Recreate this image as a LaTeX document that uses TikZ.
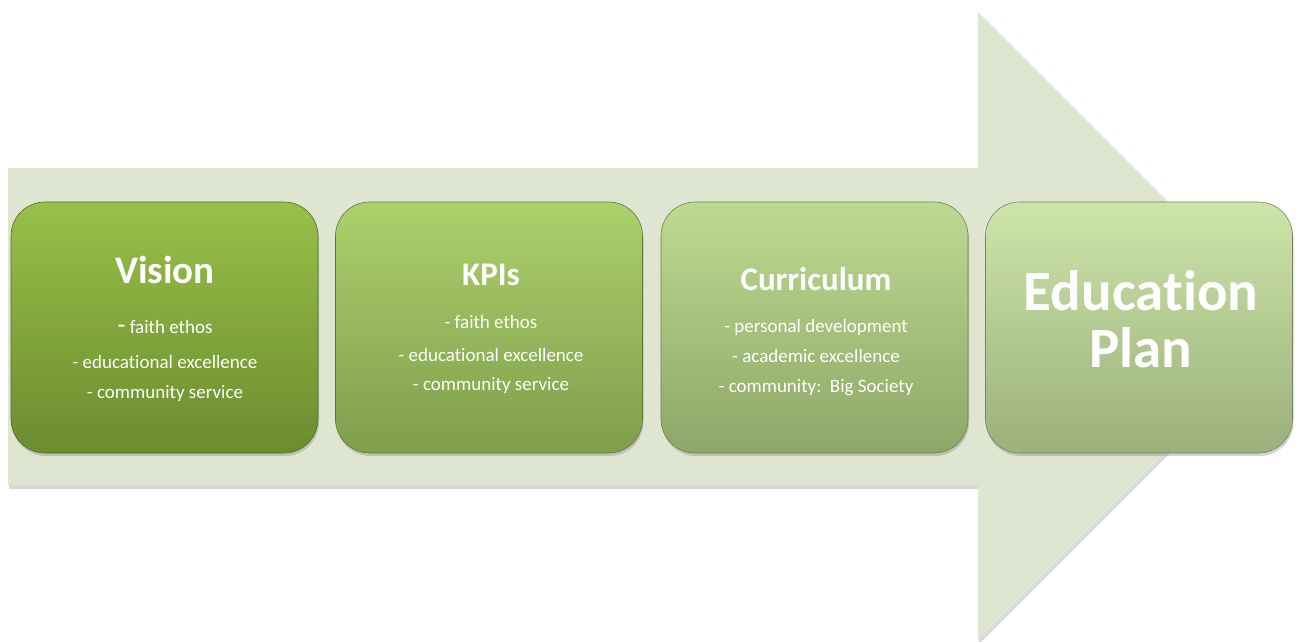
\documentclass[tikz,border=0pt]{standalone}
\usepackage{fontspec}
\setmainfont[Ligatures=NoCommon]{Carlito}
\usetikzlibrary{shadows}

\definecolor{flecha}{RGB}{222,230,210}
\definecolor{visionA}{RGB}{152,192,72}
\definecolor{visionB}{RGB}{108,140,48}
\definecolor{kpiA}{RGB}{172,208,108}
\definecolor{kpiB}{RGB}{128,158,76}
\definecolor{curriA}{RGB}{190,218,145}
\definecolor{curriB}{RGB}{142,166,104}
\definecolor{planA}{RGB}{205,228,170}
\definecolor{planB}{RGB}{155,176,124}

\tikzset{
  caja/.style 2 args={rectangle, rounded corners=34pt, inner sep=0pt,
    minimum width=307pt, minimum height=251pt,
    top color=#1, bottom color=#2, draw=#2!75!black, line width=0.6pt,
    drop shadow={shadow xshift=1pt, shadow yshift=-3pt, opacity=0.35}},
  titulo/.style={anchor=base, text=white, font=\bfseries\fontsize{#1}{#1}\selectfont},
  linea/.style={anchor=base, text=white, font=\fontsize{19}{19}\selectfont}
}

\begin{document}
\begin{tikzpicture}[x=1pt, y=-1pt]
    \useasboundingbox (0,0) rectangle (1300,641);
    % Flecha de fondo
    \fill[flecha, drop shadow={shadow xshift=1pt, shadow yshift=-4pt, opacity=0.3}]
      (8,168) -- (978,168) -- (978,12) -- (1292,326) -- (978,640) -- (978,485) -- (8,485) -- cycle;
    % Las cuatro cajas
    \node[caja={visionA}{visionB}] (vision) at (164.5,327.5) {};
    \node[caja={kpiA}{kpiB}] (kpis) at (489,327.5) {};
    \node[caja={curriA}{curriB}] (curri) at (814.5,327.5) {};
    \node[caja={planA}{planB}] (plan) at (1139,327.5) {};
    % Textos de Vision
    \node[titulo=39] (tvision) at (165,283) {Vision};
    \node[linea] (v1) at (165,333) {{\fontsize{26}{26}\selectfont -} faith ethos};
    \node[linea] (v2) at (165,368) {- educational excellence};
    \node[linea] (v3) at (165,398) {- community service};
    % Textos de KPIs
    \node[titulo=33] (tkpis) at (491,285) {KPIs};
    \node[linea] (k1) at (491,328) {- faith ethos};
    \node[linea] (k2) at (491,361) {- educational excellence};
    \node[linea] (k3) at (491,390) {- community service};
    % Textos de Curriculum
    \node[titulo=33] (tcurri) at (816,290) {Curriculum};
    \node[linea] (c1) at (816,332) {- personal development};
    \node[linea] (c2) at (816,362) {- academic excellence};
    \node[linea] (c3) at (816,392) {- community:\ \ Big Society};
    % Texto final (sin ligadura "ti")
    \node[titulo=57] (tplan1) at (1141,310) {Educat\kern0pt ion};
    \node[titulo=57] (tplan2) at (1141,367) {Plan};
\end{tikzpicture}
\end{document}
